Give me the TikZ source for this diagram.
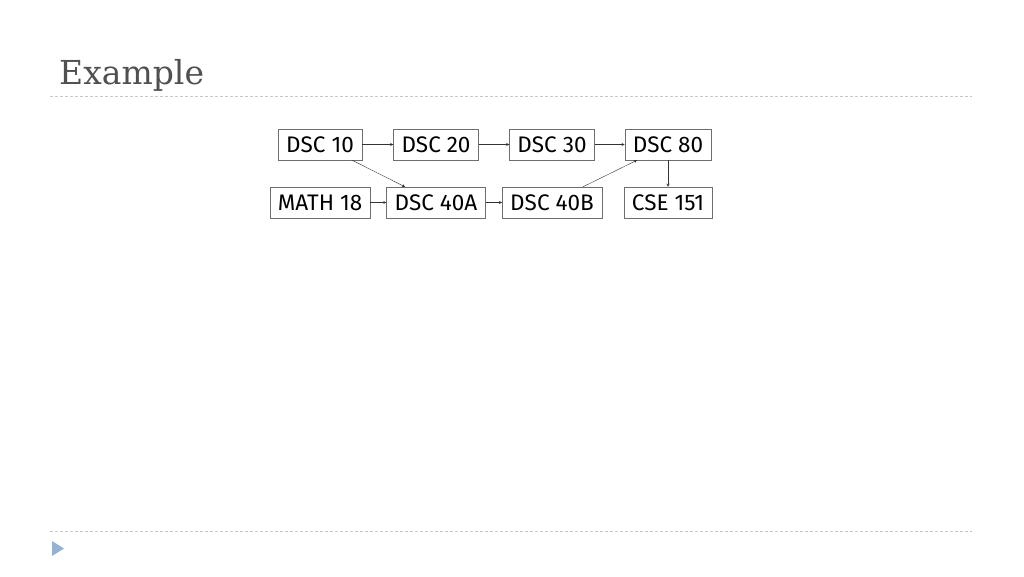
\documentclass[tikz,border=0pt]{standalone}
\usepackage{fontspec}
\setsansfont{Fira Sans}
\newfontfamily\titlefont{DejaVu Serif}
\usepackage{xcolor}
\usetikzlibrary{arrows}

\begin{document}
\begin{tikzpicture}[x=1pt,y=-1pt,node distance=116pt]
    \definecolor{titlegray}{RGB}{80,80,80}
    \definecolor{rulegray}{RGB}{200,200,200}
    \definecolor{boxgray}{RGB}{110,110,110}
    \definecolor{trianglblue}{RGB}{150,178,210}

    \useasboundingbox (0,0) rectangle (1024,576);
    \tikzstyle{course}=[rectangle,draw=boxgray,thin,fill=white,minimum height=31pt,inner xsep=8pt,font=\sffamily\fontsize{22.5pt}{26pt}\selectfont]  % 课程框
    \tikzstyle{link}=[->,>=stealth,thin,black!80]  % 连线

    % 标题和分隔线
    \node[anchor=base west,text=titlegray,font=\titlefont\fontsize{33pt}{38pt}\selectfont,inner sep=0pt](title) at (59,84){Example};
    \draw[rulegray,dashed,dash pattern=on 3pt off 2pt](50,96)--(972,96);
    \draw[rulegray,dashed,dash pattern=on 3pt off 2pt](50,531)--(972,531);
    \fill[trianglblue](52,541)--(64,548.5)--(52,556)--cycle;

    % 第一行
    \node[course](dsc10) at (320,144.5){DSC 10};
    \node[course,right of=dsc10](dsc20){DSC 20};
    \node[course,right of=dsc20](dsc30){DSC 30};
    \node[course,right of=dsc30](dsc80){DSC 80};
    % 第二行
    \node[course,below of=dsc10,node distance=58pt](math18){MATH 18};
    \node[course,right of=math18](dsc40a){DSC 40A};
    \node[course,right of=dsc40a](dsc40b){DSC 40B};
    \node[course,right of=dsc40b](cse151){CSE 151};
    % 开始画线
    \draw[link](dsc10)--(dsc20);
    \draw[link](dsc20)--(dsc30);
    \draw[link](dsc30)--(dsc80);
    \draw[link](math18)--(dsc40a);
    \draw[link](dsc40a)--(dsc40b);
    \draw[link](dsc80)--(cse151);
    \draw[link]([xshift=-10pt]dsc10.south east)--([xshift=-31pt]dsc40a.north);
    \draw[link]([xshift=31pt]dsc40b.north)--([xshift=-31pt]dsc80.south);
\end{tikzpicture}
\end{document}
